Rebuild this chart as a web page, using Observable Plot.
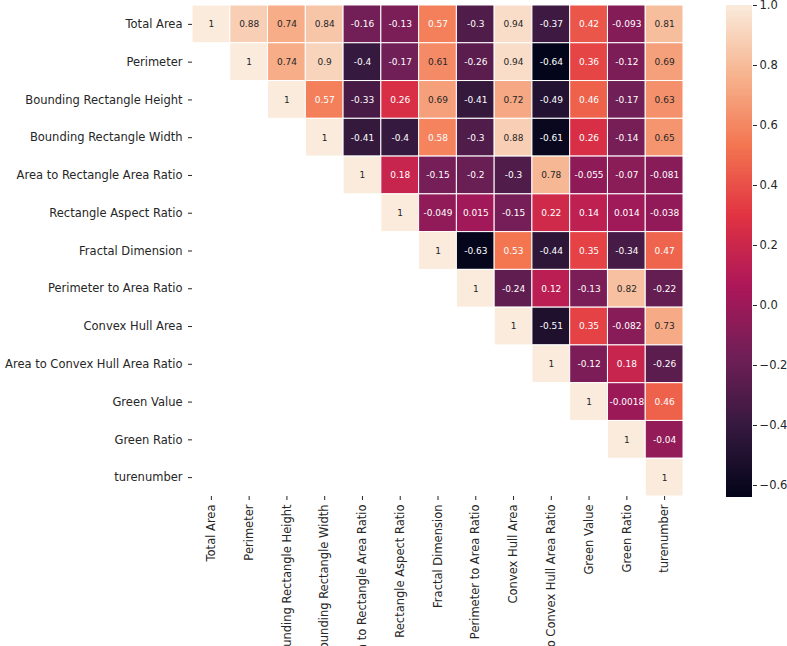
<!DOCTYPE html>
<html>
<head>
<meta charset="utf-8">
<script src="https://cdn.jsdelivr.net/npm/d3@7"></script>
<script src="https://cdn.jsdelivr.net/npm/@observablehq/plot@0.6"></script>
<style>
  html, body { margin: 0; padding: 0; background: white; }
  #wrap { position: relative; width: 787px; height: 646px; overflow: hidden; }
  #wrap > svg, #wrap > figure { position: absolute; left: 0; top: 0; margin: 0; }
</style>
</head>
<body>
<div id="wrap"></div>
<script>
const variables = [
  "Total Area", "Perimeter", "Bounding Rectangle Height", "Bounding Rectangle Width",
  "Area to Rectangle Area Ratio", "Rectangle Aspect Ratio", "Fractal Dimension",
  "Perimeter to Area Ratio", "Convex Hull Area", "Area to Convex Hull Area Ratio",
  "Green Value", "Green Ratio", "turenumber"
];

// upper-triangle rows, each starting at the diagonal
const rowTotalArea = [1, 0.88, 0.74, 0.84, -0.16, -0.13, 0.57, -0.3, 0.94, -0.37, 0.42, -0.093, 0.81];
const rowPerimeter = [1, 0.74, 0.9, -0.4, -0.17, 0.61, -0.26, 0.94, -0.64, 0.36, -0.12, 0.69];
const rowBRHeight = [1, 0.57, -0.33, 0.26, 0.69, -0.41, 0.72, -0.49, 0.46, -0.17, 0.63];
const rowBRWidth = [1, -0.41, -0.4, 0.58, -0.3, 0.88, -0.61, 0.26, -0.14, 0.65];
const rowAreaRectRatio = [1, 0.18, -0.15, -0.2, -0.3, 0.78, -0.055, -0.07, -0.081];
const rowAspectRatio = [1, -0.049, 0.015, -0.15, 0.22, 0.14, 0.014, -0.038];
const rowFractalDim = [1, -0.63, 0.53, -0.44, 0.35, -0.34, 0.47];
const rowPerimAreaRatio = [1, -0.24, 0.12, -0.13, 0.82, -0.22];
const rowConvexHullArea = [1, -0.51, 0.35, -0.082, 0.73];
const rowAreaHullRatio = [1, -0.12, 0.18, -0.26];
const rowGreenValue = [1, -0.0018, 0.46];
const rowGreenRatio = [1, -0.04];
const rowTurenumber = [1];

const colorbarTicks = [-0.6, -0.4, -0.2, 0.0, 0.2, 0.4, 0.6, 0.8, 1.0];
const vmin = -0.64, vmax = 1;

// seaborn "rocket" colormap anchors
const rocketColors = ["#03051a", "#35193e", "#701f57", "#ad1759", "#e13342", "#f37651", "#f6b48f", "#faebdd"];
const rocket = d3.piecewise(d3.interpolateRgb, rocketColors);

const rows = [rowTotalArea, rowPerimeter, rowBRHeight, rowBRWidth, rowAreaRectRatio, rowAspectRatio,
  rowFractalDim, rowPerimAreaRatio, rowConvexHullArea, rowAreaHullRatio, rowGreenValue, rowGreenRatio, rowTurenumber];
const cells = rows.flatMap((r, i) => r.map((v, k) => ({x: variables[i + k], y: variables[i], v})));

const font = "DejaVu Sans";
const labelSize = 11.5;

const main = Plot.plot({
  width: 787, height: 646,
  marginLeft: 192, marginRight: 104, marginTop: 5, marginBottom: 150,
  style: {fontFamily: font, fontSize: labelSize + "px", background: "transparent", color: "#262626", overflow: "visible"},
  x: {domain: variables, padding: 0, round: false, label: null},
  y: {domain: variables, padding: 0, round: false, label: null},
  color: {type: "linear", domain: [vmin, vmax], interpolate: rocket},
  marks: [
    Plot.cell(cells, {x: "x", y: "y", fill: "v", stroke: "white", strokeWidth: 1}),
    Plot.text(cells.filter(d => d.v >= 0.6), {x: "x", y: "y", text: d => String(d.v), fill: "#262626", fontSize: 9}),
    Plot.text(cells.filter(d => d.v < 0.6), {x: "x", y: "y", text: d => String(d.v), fill: "white", fontSize: 9}),
    Plot.axisX({anchor: "bottom", tickRotate: -90, tickSize: 4, tickPadding: 4, fontSize: labelSize, label: null}),
    Plot.axisY({anchor: "left", tickSize: 4, tickPadding: 6, fontSize: labelSize, label: null})
  ]
});

const cbStep = 0.004;
const cbStops = d3.range(vmin, vmax, cbStep);
const colorbar = Plot.plot({
  width: 787, height: 646,
  marginLeft: 726, marginRight: 35, marginTop: 5, marginBottom: 149,
  style: {fontFamily: font, fontSize: labelSize + "px", background: "transparent", color: "#262626"},
  x: {domain: [0, 1], axis: null},
  y: {domain: [vmin, vmax], label: null},
  color: {type: "linear", domain: [vmin, vmax], interpolate: rocket},
  marks: [
    Plot.rect(cbStops, {x1: 0, x2: 1, y1: d => d, y2: d => Math.min(vmax, d + cbStep * 2.5), fill: d => d, shapeRendering: "crispEdges"}),
    Plot.axisY({anchor: "right", ticks: colorbarTicks, tickFormat: d3.format(".1f"), tickSize: 4, tickPadding: 3, fontSize: labelSize, label: null})
  ]
});

const wrap = document.getElementById("wrap");
wrap.appendChild(main);
wrap.appendChild(colorbar);
</script>
</body>
</html>
